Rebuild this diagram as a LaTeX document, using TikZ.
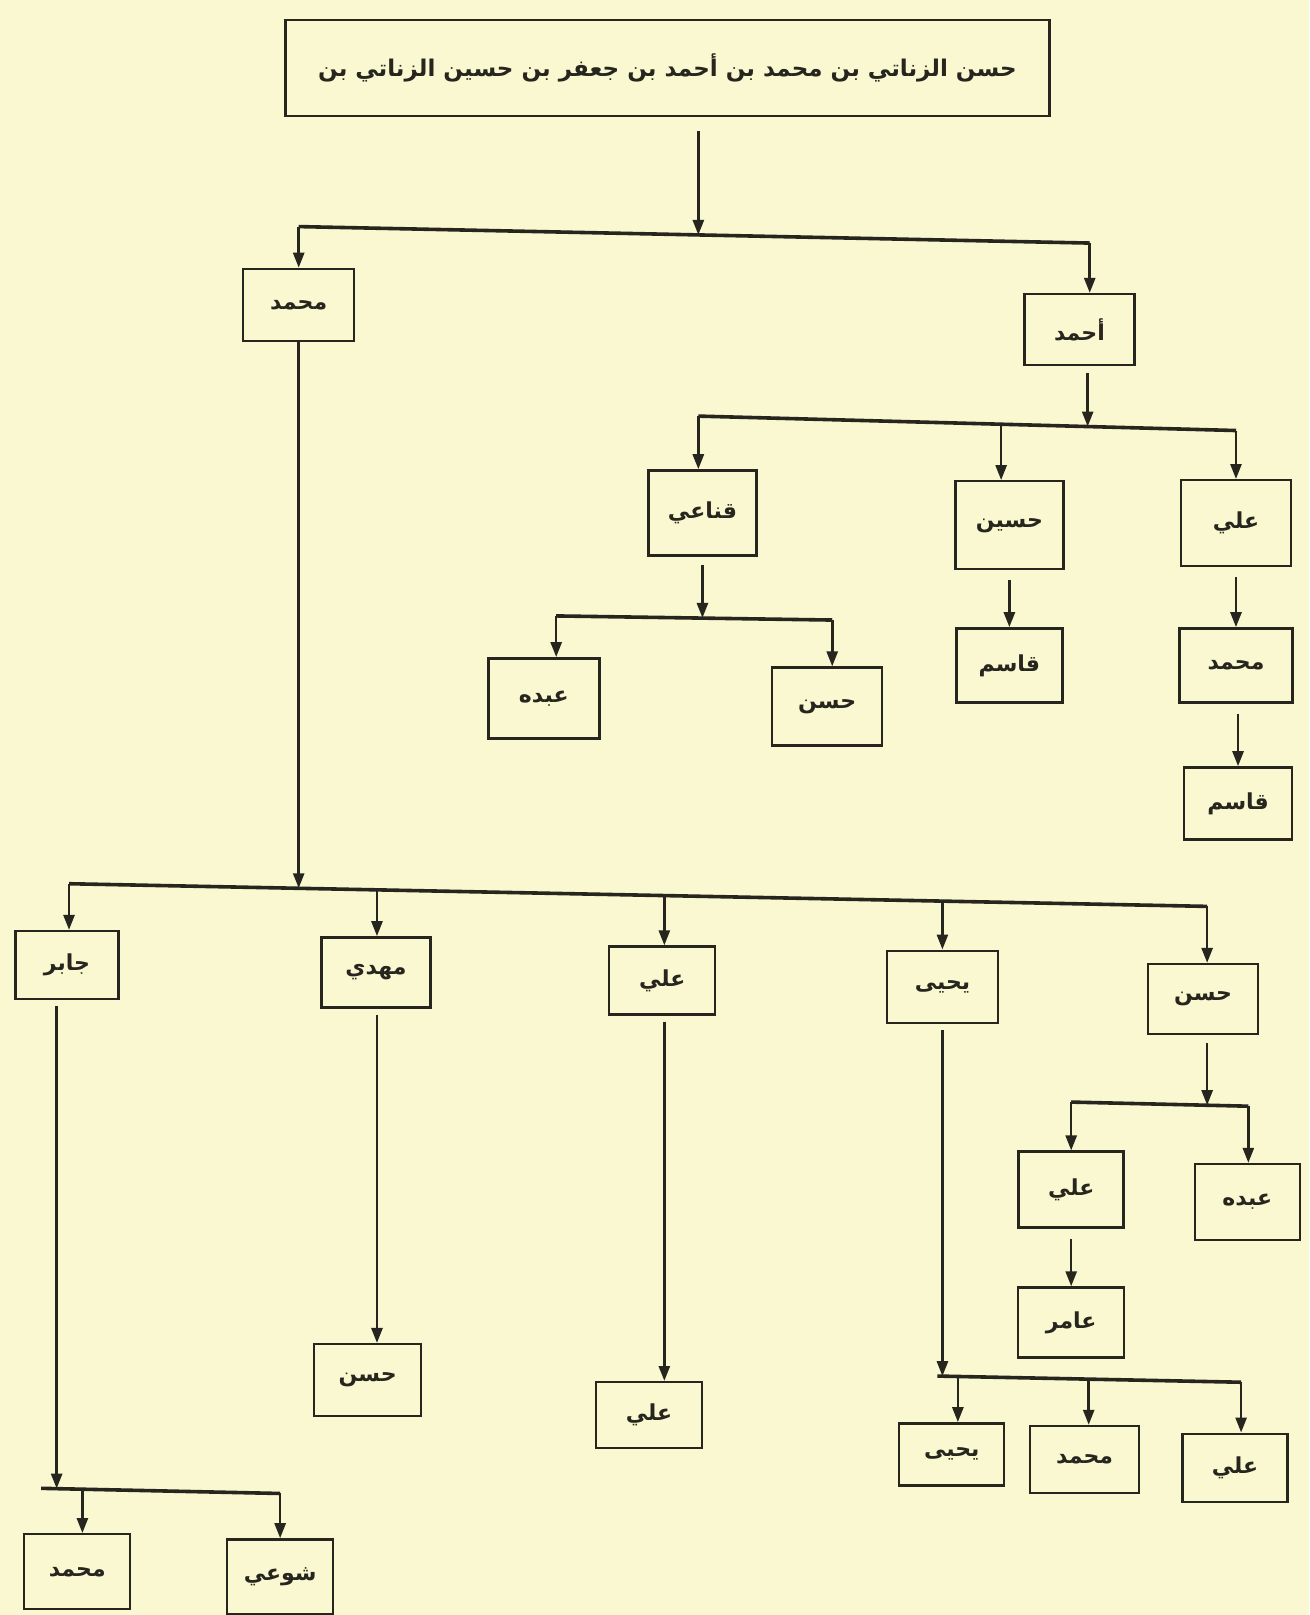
\documentclass[tikz,border=0pt]{standalone}
\usepackage{fontspec}
\usetikzlibrary{arrows.meta}
\TeXXeTstate=1
\newfontfamily\arabicfont[Script=Arabic]{DejaVu Sans}
\definecolor{bg}{HTML}{FAF8D0}
\definecolor{ink}{HTML}{26251E}
\newcommand{\AR}[1]{\beginR #1\endR}
\begin{document}
\begin{tikzpicture}[x=1.03pt,y=-1.03pt,
 box/.style={draw=ink, line width=2.4pt, inner sep=0pt, text=ink,
   font=\arabicfont\bfseries\fontsize{22}{26}\selectfont},
 arr/.style={draw=ink, line width=2.6pt, -{Triangle[length=15pt,width=11pt]}},
 bus/.style={draw=ink, line width=3.6pt},
]
\fill[bg] (0,0) rectangle (1271,1568);
\path[use as bounding box] (0,0) rectangle (1271,1568);

% nodes
\node[box, minimum width=764pt, minimum height=96pt,
  font=\arabicfont\bfseries\fontsize{23}{27}\selectfont] (top) at (648,66)
  {\AR{حسن الزناتي بن محمد بن أحمد بن جعفر بن حسين الزناتي بن}};
\node[box, minimum width=111pt, minimum height=72pt] (muh1) at (290,296) {\AR{محمد}};
\node[box, minimum width=110pt, minimum height=71pt] (ahmad) at (1048,320) {\AR{أحمد}};
\node[box, minimum width=108pt, minimum height=85pt] (qanai) at (682,498) {\AR{قناعي}};
\node[box, minimum width=108pt, minimum height=88pt] (husayn) at (980,510) {\AR{حسين}};
\node[box, minimum width=110pt, minimum height=86pt] (ali1) at (1200,508) {\AR{علي}};
\node[box, minimum width=106pt, minimum height=74pt] (qasim1) at (980,646) {\AR{قاسم}};
\node[box, minimum width=113pt, minimum height=74pt] (muh2) at (1200,646) {\AR{محمد}};
\node[box, minimum width=108pt, minimum height=72pt] (qasim2) at (1202,780) {\AR{قاسم}};
\node[box, minimum width=111pt, minimum height=80pt] (abduh1) at (528,678) {\AR{عبده}};
\node[box, minimum width=110pt, minimum height=78pt] (hasan1) at (803,686) {\AR{حسن}};

\node[box, minimum width=103pt, minimum height=68pt] (jabir) at (65,937) {\AR{جابر}};
\node[box, minimum width=109pt, minimum height=70pt] (mahdi) at (365,944) {\AR{مهدي}};
\node[box, minimum width=106pt, minimum height=68pt] (ali2) at (643,952) {\AR{علي}};
\node[box, minimum width=111pt, minimum height=72pt] (yahya) at (915,958) {\AR{يحيى}};
\node[box, minimum width=110pt, minimum height=70pt] (hasan2) at (1168,970) {\AR{حسن}};

\node[box, minimum width=105pt, minimum height=76pt] (ali3) at (1040,1155) {\AR{علي}};
\node[box, minimum width=105pt, minimum height=76pt] (abduh2) at (1211,1167) {\AR{عبده}};
\node[box, minimum width=106pt, minimum height=70pt] (amir) at (1040,1284) {\AR{عامر}};
\node[box, minimum width=105pt, minimum height=62pt] (yahya2) at (924,1412) {\AR{يحيى}};
\node[box, minimum width=109pt, minimum height=67pt] (muh3) at (1053,1417) {\AR{محمد}};
\node[box, minimum width=105pt, minimum height=68pt] (ali4) at (1199,1425) {\AR{علي}};
\node[box, minimum width=106pt, minimum height=66pt] (ali5) at (630,1374) {\AR{علي}};
\node[box, minimum width=107pt, minimum height=72pt] (hasan3) at (357,1340) {\AR{حسن}};
\node[box, minimum width=106pt, minimum height=75pt] (muh4) at (75,1526) {\AR{محمد}};
\node[box, minimum width=106pt, minimum height=75pt] (shawai) at (272,1531) {\AR{شوعي}};

% bus 1
\coordinate (b1a) at (290,220); \coordinate (b1b) at (1058,236); \coordinate (b1t) at (678,228.1);
\draw[arr, shorten <=14pt] (top.south -| b1t) -- (b1t);
\draw[bus] (b1a) -- (b1b);
\draw[arr] (b1a) -- (muh1);
\draw[arr] (b1b) -- (b1b |- ahmad.north);

% bus 2
\coordinate (b2a) at (678,404); \coordinate (b2m) at (972,411.9); \coordinate (b2b) at (1200,418); \coordinate (b2t) at (1056,414.1);
\draw[arr, shorten <=7pt] (ahmad.south -| b2t) -- (b2t);
\draw[bus] (b2a) -- (b2b);
\draw[arr] (b2a) -- (b2a |- qanai.north);
\draw[arr] (b2m) -- (b2m |- husayn.north);
\draw[arr] (b2b) -- (ali1);
\draw[arr, shorten <=10pt] (husayn) -- (qasim1);
\draw[arr, shorten <=10pt] (ali1) -- (muh2);
\draw[arr, shorten <=10pt] (muh2.south -| qasim2) -- (qasim2);

% bus 3
\coordinate (b3a) at (540,598); \coordinate (b3b) at (808,602); \coordinate (b3t) at (682,600);
\draw[arr, shorten <=8pt] (qanai.south -| b3t) -- (b3t);
\draw[bus] (b3a) -- (b3b);
\draw[arr] (b3a) -- (b3a |- abduh1.north);
\draw[arr] (b3b) -- (b3b |- hasan1.north);

% bus 4
\coordinate (b4a) at (67,858); \coordinate (b4b) at (1172,880); \coordinate (b4t) at (290,862.4);
\draw[arr] (muh1.south -| b4t) -- (b4t);
\draw[bus] (b4a) -- (b4b);
\draw[arr] (b4a) -- (b4a |- jabir.north);
\coordinate (b4c) at (366,864); \coordinate (b4d) at (645,869.5); \coordinate (b4e) at (915,874.9);
\draw[arr] (b4c) -- (b4c |- mahdi.north);
\draw[arr] (b4d) -- (b4d |- ali2.north);
\draw[arr] (b4e) -- (b4e |- yahya.north);
\draw[arr] (b4b) -- (b4b |- hasan2.north);

% bus 5
\coordinate (b5a) at (1040,1070); \coordinate (b5b) at (1212,1074); \coordinate (b5t) at (1172,1073);
\draw[arr, shorten <=8pt] (hasan2.south -| b5t) -- (b5t);
\draw[bus] (b5a) -- (b5b);
\draw[arr] (b5a) -- (ali3);
\draw[arr] (b5b) -- (b5b |- abduh2.north);
\draw[arr, shorten <=10pt] (ali3) -- (amir);

% bus 6
\coordinate (b6a) at (910,1336); \coordinate (b6b) at (1205,1342); \coordinate (b6t) at (915,1336.1);
\draw[arr, shorten <=6pt] (yahya.south -| b6t) -- (b6t);
\draw[bus] (b6a) -- (b6b);
\coordinate (b6c) at (930,1336.4); \coordinate (b6d) at (1057,1339);
\draw[arr] (b6c) -- (b6c |- yahya2.north);
\draw[arr] (b6d) -- (b6d |- muh3.north);
\draw[arr] (b6b) -- (b6b |- ali4.north);

% single lines
\coordinate (c5) at (645,990);
\draw[arr, shorten <=6pt] (ali2.south -| c5) -- (c5 |- ali5.north);
\coordinate (c3) at (366,990);
\draw[arr, shorten <=6pt] (mahdi.south -| c3) -- (c3 |- hasan3.north);

% bus 7
\coordinate (b7a) at (40,1445); \coordinate (b7b) at (272,1450); \coordinate (b7t) at (55,1445.3);
\draw[arr, shorten <=6pt] (jabir.south -| b7t) -- (b7t);
\draw[bus] (b7a) -- (b7b);
\coordinate (b7c) at (80,1445.9);
\draw[arr] (b7c) -- (b7c |- muh4.north);
\draw[arr] (b7b) -- (shawai);
\end{tikzpicture}
\end{document}
